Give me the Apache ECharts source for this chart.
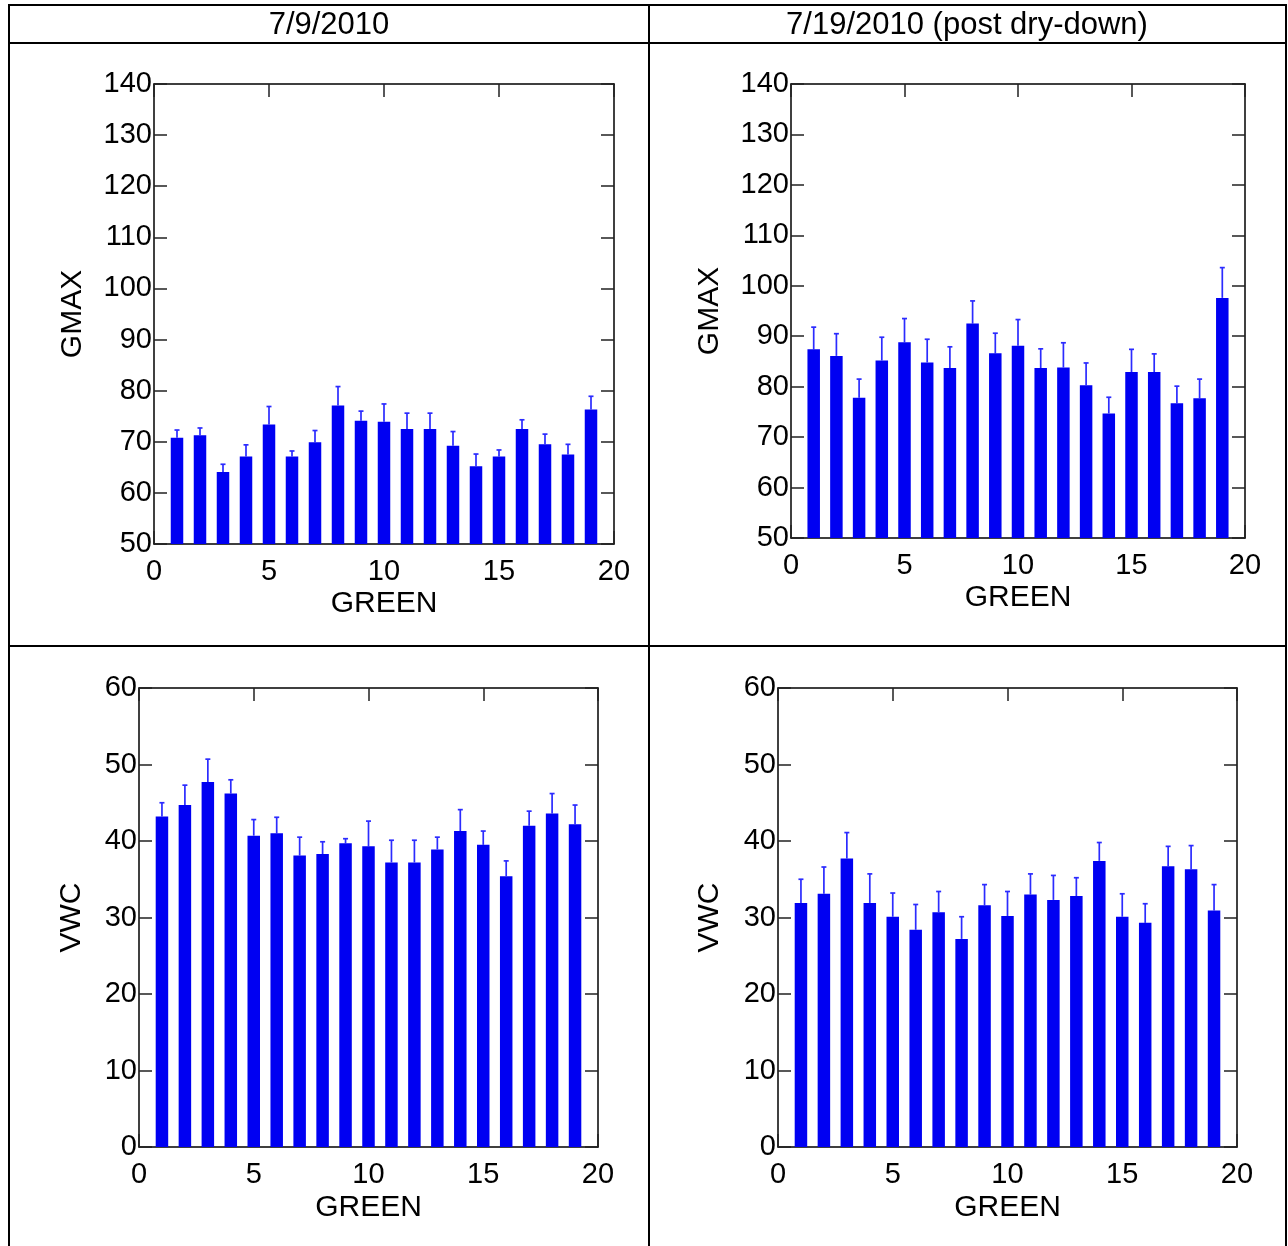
<!DOCTYPE html>
<html lang="en">
<head>
    <meta charset="UTF-8">
    <script src="https://cdn.jsdelivr.net/npm/echarts@6/dist/echarts.min.js"></script>
    <style>
        html, body { margin: 0; padding: 0; background: #fff; }
        #main { width: 1288px; height: 1246px; }
    </style>
</head>
<body>
    <div id="main"></div>
</body>
<script>
    // GREEN plot numbers
    var green = [1, 2, 3, 4, 5, 6, 7, 8, 9, 10, 11, 12, 13, 14, 15, 16, 17, 18, 19];
    var xTicks = [0, 5, 10, 15, 20];

    // GMAX, 7/9/2010 (mean and upper error)
    var gmax0709 = [70.8, 71.3, 64.1, 67.1, 73.4, 67.1, 69.9, 77.1, 74.1, 73.9, 72.5, 72.5, 69.2, 65.2, 67.1, 72.5, 69.5, 67.5, 76.3];
    var gmax0709Err = [1.5, 1.4, 1.5, 2.3, 3.5, 1.1, 2.3, 3.7, 1.9, 3.5, 3.1, 3.1, 2.8, 2.4, 1.3, 1.8, 2.0, 2.0, 2.6];

    // GMAX, 7/19/2010 post dry-down
    var gmax0719 = [87.4, 86.1, 77.8, 85.2, 88.8, 84.8, 83.7, 92.5, 86.6, 88.1, 83.7, 83.8, 80.3, 74.7, 82.9, 82.9, 76.7, 77.7, 97.6];
    var gmax0719Err = [4.4, 4.4, 3.7, 4.6, 4.7, 4.6, 4.2, 4.5, 4.0, 5.2, 3.8, 4.9, 4.4, 3.2, 4.5, 3.6, 3.4, 3.8, 6.0];

    // VWC, 7/9/2010
    var vwc0709 = [43.2, 44.7, 47.7, 46.2, 40.7, 41.0, 38.1, 38.3, 39.7, 39.3, 37.2, 37.2, 38.9, 41.3, 39.5, 35.4, 42.0, 43.6, 42.2];
    var vwc0709Err = [1.8, 2.6, 3.0, 1.8, 2.1, 2.1, 2.4, 1.6, 0.6, 3.3, 2.9, 2.9, 1.6, 2.8, 1.8, 2.0, 1.9, 2.6, 2.5];

    // VWC, 7/19/2010 post dry-down
    var vwc0719 = [31.9, 33.1, 37.7, 31.9, 30.1, 28.4, 30.7, 27.2, 31.6, 30.2, 33.0, 32.3, 32.8, 37.4, 30.1, 29.3, 36.7, 36.3, 30.9];
    var vwc0719Err = [3.1, 3.5, 3.4, 3.8, 3.1, 3.3, 2.7, 2.9, 2.7, 3.2, 2.7, 3.2, 2.4, 2.4, 3.0, 2.5, 2.6, 3.1, 3.4];

    var colTitles = ['7/9/2010', '7/19/2010 (post dry-down)'];

    var FONT = '"Liberation Sans", Arial, sans-serif';
    var panels = [
        { grid: { left: 154, top: 84, width: 460, height: 460 }, name: 'GMAX', gap: 66, xGap: 45, min: 50, max: 140, step: 10, mean: gmax0709, err: gmax0709Err },
        { grid: { left: 791, top: 84, width: 454, height: 454 }, name: 'GMAX', gap: 66, xGap: 45, min: 50, max: 140, step: 10, mean: gmax0719, err: gmax0719Err },
        { grid: { left: 139, top: 688, width: 459, height: 459 }, name: 'VWC', gap: 52, xGap: 46, min: 0, max: 60, step: 10, mean: vwc0709, err: vwc0709Err },
        { grid: { left: 778, top: 688, width: 459, height: 459 }, name: 'VWC', gap: 53, xGap: 46, min: 0, max: 60, step: 10, mean: vwc0719, err: vwc0719Err }
    ];

    var myChart = echarts.init(document.getElementById('main'), null, { renderer: 'canvas' });

    var axLine = { show: true, onZero: false, lineStyle: { color: '#000', width: 1.5 } };
    var axTick = { show: true, inside: true, length: 13, lineStyle: { color: '#222', width: 1.5 } };

    var grids = [], xAxes = [], yAxes = [], series = [];
    panels.forEach(function (p, i) {
        grids.push(p.grid);
        xAxes.push({
            type: 'value', gridIndex: i, position: 'bottom', min: xTicks[0], max: xTicks[xTicks.length - 1], interval: 5,
            name: 'GREEN', nameLocation: 'middle', nameGap: p.xGap,
            nameTextStyle: { fontFamily: FONT, fontSize: 30, color: '#000' },
            axisLine: axLine, axisTick: axTick, splitLine: { show: false },
            axisLabel: { fontFamily: FONT, fontSize: 29, color: '#000', margin: 13 }
        });
        xAxes.push({
            type: 'value', gridIndex: i, position: 'top', min: 0, max: 20, interval: 5,
            axisLine: axLine, axisTick: axTick, splitLine: { show: false }, axisLabel: { show: false }
        });
        yAxes.push({
            type: 'value', gridIndex: i, position: 'left', min: p.min, max: p.max, interval: p.step,
            name: p.name, nameLocation: 'middle', nameGap: p.gap,
            nameTextStyle: { fontFamily: FONT, fontSize: 30, color: '#000' },
            axisLine: axLine, axisTick: axTick, splitLine: { show: false },
            axisLabel: { fontFamily: FONT, fontSize: 29, color: '#000', margin: 2 }
        });
        yAxes.push({
            type: 'value', gridIndex: i, position: 'right', min: p.min, max: p.max, interval: p.step,
            axisLine: axLine, axisTick: axTick, splitLine: { show: false }, axisLabel: { show: false }
        });

        var data = green.map(function (g, k) { return [g, p.mean[k], p.mean[k] + p.err[k]]; });
        var base = p.min;
        series.push({
            type: 'custom',
            xAxisIndex: 2 * i,
            yAxisIndex: 2 * i,
            data: data,
            clip: false,
            renderItem: function (params, api) {
                var top = api.coord([api.value(0), api.value(1)]);
                var bot = api.coord([api.value(0), base]);
                var hi = api.coord([api.value(0), api.value(2)]);
                var w = 12.5;
                return {
                    type: 'group',
                    children: [
                        {
                            type: 'line',
                            shape: { x1: top[0], y1: top[1], x2: hi[0], y2: hi[1] },
                            style: { stroke: '#2b2bff', lineWidth: 1.7 }
                        },
                        {
                            type: 'line',
                            shape: { x1: hi[0] - 2.5, y1: hi[1], x2: hi[0] + 2.5, y2: hi[1] },
                            style: { stroke: '#2b2bff', lineWidth: 1.7 }
                        },
                        {
                            type: 'rect',
                            shape: { x: top[0] - w / 2, y: top[1], width: w, height: bot[1] - top[1] },
                            style: { fill: '#0000f2' }
                        }
                    ]
                };
            }
        });
    });

    // table frame and column headers
    var frame = [
        [8, 5, 1287, 5], [8, 43, 1287, 43], [8, 646, 1287, 646],
        [9, 5, 9, 1246], [649, 5, 649, 1246], [1286, 5, 1286, 1246]
    ];
    var graphic = frame.map(function (l) {
        return { type: 'line', shape: { x1: l[0], y1: l[1], x2: l[2], y2: l[3] }, style: { stroke: '#000', lineWidth: 2 }, z: 10 };
    });
    graphic.push({ type: 'text', x: 329, y: 25, style: { text: colTitles[0], font: '31px ' + FONT, fill: '#000', align: 'center', verticalAlign: 'middle' } });
    graphic.push({ type: 'text', x: 967, y: 25, style: { text: colTitles[1], font: '31px ' + FONT, fill: '#000', align: 'center', verticalAlign: 'middle' } });

    var option = {
        backgroundColor: '#fff',
        animation: false,
        grid: grids,
        xAxis: xAxes,
        yAxis: yAxes,
        series: series,
        graphic: graphic
    };
    myChart.setOption(option);
</script>
</html>
